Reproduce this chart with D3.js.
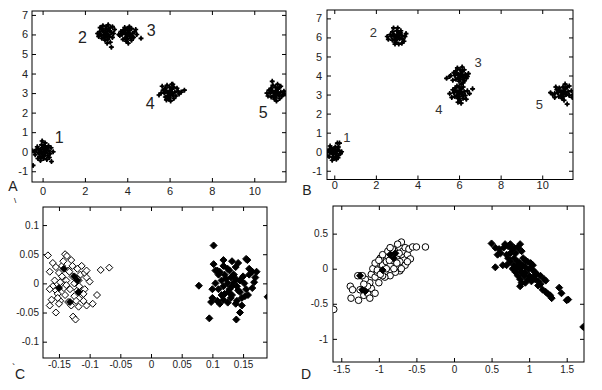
<!DOCTYPE html>
<html>
<head>
<meta charset="utf-8">
<script src="https://cdn.jsdelivr.net/npm/d3@7"></script>
<style>
  body { margin: 0; background: #fff; }
  svg { display: block; }
  .tick text { font-family: "Liberation Sans", Arial, sans-serif; fill: #222; }
  .tick line { stroke: #000; }
</style>
</head>
<body>
<div id="chart"></div>
<script>
// ---- data: panel A clusters (x, y) ----
const a1 = [[0.05,0.02],[-0.1,0.1],[0.15,-0.05],[0.0,-0.15],[0.2,0.15],[-0.2,-0.05],[0.1,0.3],[-0.05,0.35],[0.25,-0.2],[-0.15,-0.25],[0.3,0.05],[-0.3,0.1],[0.05,-0.35],[0.35,-0.1],[-0.25,0.25],[0.12,0.45],[-0.02,0.55],[0.4,0.2],[-0.35,-0.15],[0.2,-0.4],[-0.1,-0.45],[0.42,-0.5],[-0.45,-0.7],[0.08,0.12],[-0.05,-0.05],[0.18,0.05],[-0.12,0.0],[0.0,0.2],[0.1,-0.2],[-0.2,0.15],[0.28,0.3],[-0.08,-0.3],[0.32,-0.3],[-0.4,0.02],[0.15,0.22],[-0.22,-0.35],[0.5,0.0],[-0.5,0.05]];
const a2 = [[3.0,6.05],[2.85,6.2],[3.15,5.9],[2.9,5.85],[3.1,6.25],[2.75,6.0],[3.25,6.1],[3.0,6.4],[2.95,5.7],[3.3,5.85],[2.7,6.15],[3.2,6.35],[2.8,5.8],[3.05,5.55],[2.6,6.05],[3.35,6.05],[3.1,6.5],[2.85,6.45],[3.2,5.6],[3.25,5.35],[2.9,6.1],[3.05,6.15],[3.12,5.98],[2.95,6.0],[3.0,5.9],[2.8,6.3],[3.4,6.25],[2.65,5.9],[3.18,6.18],[2.88,5.95],[3.08,5.75],[2.98,6.28],[3.3,6.4],[2.72,6.35]];
const a3 = [[4.0,6.0],[3.85,6.1],[4.15,5.9],[3.9,5.8],[4.1,6.2],[3.75,6.0],[4.25,6.05],[4.0,6.3],[3.95,5.65],[4.3,5.85],[3.7,6.15],[4.2,6.3],[3.8,5.75],[4.05,5.55],[3.65,5.95],[4.35,6.15],[4.1,6.4],[3.88,6.35],[4.2,5.7],[4.45,6.0],[3.92,6.05],[4.05,6.12],[4.12,5.98],[3.98,5.9],[4.02,5.78],[3.82,6.22],[4.4,6.25],[3.6,6.0],[4.65,5.8],[4.08,6.05],[3.9,6.2],[4.18,5.82]];
const a4 = [[6.0,3.0],[5.85,3.1],[6.15,2.9],[5.9,2.85],[6.1,3.2],[5.75,3.0],[6.25,3.05],[6.0,3.3],[5.95,2.7],[6.3,2.85],[5.7,3.15],[6.2,3.3],[5.8,2.8],[6.05,2.6],[5.6,3.0],[6.4,3.1],[6.1,3.45],[5.88,3.4],[6.2,2.72],[6.45,2.95],[5.92,3.05],[6.05,3.12],[6.12,2.98],[5.98,2.9],[6.02,2.8],[5.8,3.25],[6.55,3.05],[5.5,2.9],[6.7,3.15],[5.65,3.35],[6.15,3.45],[5.85,2.65],[6.35,3.25]];
const a5 = [[11.0,3.0],[10.85,3.1],[11.15,2.9],[10.9,2.85],[11.1,3.2],[10.75,3.0],[11.25,3.05],[11.0,3.3],[10.95,2.7],[11.3,2.85],[10.7,3.15],[11.2,3.3],[10.8,2.8],[11.05,2.6],[10.6,3.0],[11.4,3.1],[11.1,3.45],[10.88,3.4],[11.2,2.72],[11.45,2.95],[10.92,3.05],[11.05,3.12],[11.12,2.98],[10.98,2.9],[11.02,2.8],[10.8,3.25],[10.85,3.6],[11.35,2.9],[10.65,2.85],[11.25,3.35]];

// ---- data: panel B clusters ----
const b1 = [[0.0,0.0],[-0.1,0.1],[0.1,-0.1],[-0.05,-0.15],[0.15,0.1],[-0.2,-0.05],[0.05,0.25],[-0.15,0.2],[0.2,-0.2],[-0.25,-0.25],[0.25,0.05],[-0.3,0.05],[0.0,-0.35],[0.3,-0.1],[-0.2,0.3],[0.15,0.45],[0.25,0.45],[-0.35,-0.2],[0.1,-0.4],[-0.1,-0.45],[0.05,0.05],[-0.05,-0.05],[0.12,0.02],[-0.12,-0.02],[0.0,0.15],[0.08,-0.25],[-0.18,0.12],[0.2,0.25],[-0.08,-0.3],[0.35,0.0],[-0.38,0.0],[0.18,-0.32]];
const b2 = [[3.0,6.05],[2.85,6.15],[3.15,5.95],[2.9,5.9],[3.1,6.2],[2.75,6.05],[3.25,6.1],[3.0,6.35],[2.95,5.75],[3.3,5.9],[2.7,6.15],[3.2,6.35],[2.8,5.85],[3.1,5.65],[2.55,6.05],[3.4,6.05],[3.05,6.5],[2.85,6.5],[3.25,5.7],[3.45,6.2],[2.9,6.1],[3.05,6.15],[3.12,6.0],[2.95,6.0],[3.0,5.88],[2.8,6.3],[2.6,5.9],[3.35,5.8],[2.92,5.65],[3.18,6.25]];
const b3 = [[6.05,4.0],[5.9,4.1],[6.2,3.9],[5.95,3.85],[6.15,4.2],[5.8,4.0],[6.3,4.05],[6.05,4.3],[6.0,3.7],[6.35,3.85],[5.75,4.15],[6.25,4.3],[5.85,3.8],[6.1,3.55],[5.6,4.0],[6.45,4.1],[6.15,4.45],[5.92,4.4],[6.25,3.72],[5.4,3.85],[5.97,4.05],[6.1,4.12],[6.17,3.98],[6.03,3.9],[6.07,3.8],[5.85,4.25],[5.55,3.95],[6.4,3.95],[5.7,3.75],[6.2,3.62]];
const b4 = [[6.0,3.1],[5.85,3.2],[6.15,3.0],[5.9,2.95],[6.1,3.3],[5.75,3.1],[6.25,3.15],[6.0,3.4],[5.95,2.8],[6.3,2.95],[5.7,3.25],[6.2,3.4],[5.8,2.9],[6.05,2.7],[5.55,3.05],[6.4,3.2],[5.9,3.45],[6.2,2.8],[6.65,3.3],[6.5,3.05],[5.92,3.15],[6.05,3.22],[6.12,3.08],[5.98,3.0],[6.02,2.9],[5.82,3.35],[5.65,2.85],[6.1,2.55],[5.95,2.6],[6.35,2.75]];
const b5 = [[11.0,3.1],[10.85,3.2],[11.15,3.0],[10.9,2.95],[11.1,3.3],[10.75,3.1],[11.25,3.15],[11.0,3.4],[10.95,2.8],[11.3,2.95],[10.7,3.25],[11.2,3.4],[10.8,2.9],[11.05,2.7],[10.6,3.05],[11.4,3.2],[11.1,3.55],[10.5,3.0],[11.2,2.5],[11.45,2.85],[10.92,3.15],[11.05,3.22],[11.12,3.08],[10.98,3.0],[11.02,2.9],[10.82,3.35],[10.4,3.1],[10.6,2.85],[11.3,3.45],[11.48,3.0],[10.65,3.4]];

// cluster number labels [x, y, text]
const labelsA = [[0.79,0.75,'1'],[1.88,5.82,'2'],[5.13,6.18,'3'],[5.09,2.49,'4'],[10.42,2.03,'5']];
const labelsB = [[0.6,0.72,'1'],[1.88,6.28,'2'],[6.92,4.66,'3'],[5.03,2.24,'4'],[9.86,2.5,'5']];

// ---- data: panel C ----
const cOpen = [[-0.168,0.048],[-0.14,0.05],[-0.137,0.047],[-0.16,0.035],[-0.13,0.04],[-0.128,0.03],[-0.145,0.03],[-0.155,0.028],[-0.165,0.02],[-0.15,0.018],[-0.135,0.022],[-0.12,0.025],[-0.115,0.015],[-0.108,0.018],[-0.105,0.01],[-0.118,0.005],[-0.125,0.0],[-0.138,0.005],[-0.148,0.002],[-0.16,-0.005],[-0.165,-0.01],[-0.155,-0.012],[-0.142,-0.008],[-0.132,-0.01],[-0.12,-0.012],[-0.108,-0.01],[-0.112,-0.02],[-0.125,-0.022],[-0.14,-0.02],[-0.152,-0.018],[-0.162,-0.028],[-0.148,-0.03],[-0.135,-0.032],[-0.122,-0.03],[-0.11,-0.03],[-0.105,-0.038],[-0.118,-0.04],[-0.13,-0.038],[-0.15,-0.035],[-0.165,-0.038],[-0.155,-0.05],[-0.127,-0.057],[-0.123,-0.062],[-0.095,-0.035],[-0.088,-0.02],[-0.082,0.023],[-0.068,0.027],[-0.1,0.003],[-0.113,0.03],[-0.145,0.012],[-0.157,0.005],[-0.128,0.012],[-0.138,-0.003],[-0.117,-0.005],[-0.143,0.038],[-0.11,-0.018],[-0.133,0.02],[-0.12,0.008],[-0.152,-0.025],[-0.105,0.022]];
const cFilledLeft = [[-0.142,0.025],[-0.125,0.012],[-0.12,0.005],[-0.118,-0.015],[-0.132,-0.032],[-0.15,-0.008]];
const cFilled = [[0.078,-0.004],[0.095,-0.06],[0.102,0.065],[0.139,-0.062],[0.145,-0.05],[0.19,-0.023],[0.157,0.04],[0.155,0.042],[0.102,0.033],[0.118,0.04],[0.132,0.038],[0.142,0.035],[0.108,0.022],[0.105,0.022],[0.112,0.02],[0.125,0.025],[0.138,0.028],[0.165,0.02],[0.17,0.01],[0.16,0.015],[0.15,0.012],[0.145,0.005],[0.13,0.01],[0.12,0.015],[0.125,0.0],[0.135,0.002],[0.14,-0.005],[0.128,-0.01],[0.118,-0.005],[0.11,-0.01],[0.1,-0.01],[0.105,0.0],[0.115,0.005],[0.12,-0.018],[0.132,-0.02],[0.145,-0.015],[0.155,-0.01],[0.165,-0.008],[0.158,-0.02],[0.148,-0.025],[0.14,-0.03],[0.13,-0.025],[0.118,-0.028],[0.108,-0.03],[0.1,-0.025],[0.098,-0.032],[0.112,-0.035],[0.125,-0.033],[0.138,-0.035],[0.148,-0.038],[0.153,-0.022],[0.168,0.002],[0.172,0.02],[0.16,0.025],[0.135,0.015],[0.128,0.022],[0.122,0.008],[0.142,-0.012],[0.152,0.0],[0.11,0.015],[0.115,-0.02],[0.132,-0.005],[0.138,0.008],[0.126,-0.015],[0.118,0.03]];

// ---- data: panel D ----
const dOpen = [[-1.37,-0.42],[-1.38,-0.25],[-1.35,-0.3],[-1.27,-0.45],[-1.25,-0.3],[-1.2,-0.38],[-1.15,-0.35],[-1.1,-0.28],[-1.05,-0.35],[-1.12,-0.2],[-1.18,-0.15],[-1.28,-0.1],[-1.22,-0.1],[-1.1,-0.08],[-1.05,-0.12],[-1.0,-0.2],[-1.02,-0.05],[-0.98,0.0],[-1.08,0.0],[-1.05,0.08],[-0.95,0.05],[-0.92,-0.05],[-0.9,0.1],[-0.98,0.15],[-0.88,0.18],[-0.85,0.05],[-0.82,0.12],[-0.8,0.2],[-0.78,0.25],[-0.75,0.15],[-0.72,0.1],[-0.7,0.2],[-0.72,0.3],[-0.7,0.38],[-0.75,0.35],[-0.68,0.25],[-0.65,0.3],[-0.62,0.2],[-0.6,0.28],[-0.55,0.31],[-0.5,0.31],[-0.38,0.31],[-0.58,0.14],[-0.65,0.05],[-0.72,-0.03],[-0.78,-0.05],[-0.85,-0.1],[-0.92,-0.12],[-0.95,0.2],[-0.88,0.25],[-0.82,0.28],[-0.85,0.3],[-0.8,0.0],[-0.7,0.0],[-0.62,0.1],[-1.0,0.12],[-1.15,-0.25],[-1.2,-0.22],[-0.95,-0.1],[-1.6,-0.58],[-0.9,0.0],[-0.83,0.18],[-0.76,0.08],[-1.12,-0.42],[-1.02,-0.02],[-0.98,-0.08],[-0.86,0.12],[-0.73,0.22]];
const dFilledLeft = [[-1.25,-0.1],[-1.22,-0.3],[-1.18,-0.32],[-0.95,-0.02],[-0.8,0.15],[-0.85,0.2],[-0.78,0.22]];
const dFilled = [[0.5,0.36],[0.55,0.3],[0.6,0.28],[0.58,0.2],[0.62,0.22],[0.55,0.02],[0.65,0.05],[0.68,0.35],[0.72,0.32],[0.75,0.35],[0.78,0.28],[0.7,0.2],[0.72,0.15],[0.75,0.1],[0.8,0.15],[0.85,0.3],[0.88,0.35],[0.9,0.25],[0.82,0.22],[0.8,0.05],[0.85,0.1],[0.88,0.0],[0.92,0.05],[0.95,0.12],[0.9,-0.05],[0.85,-0.1],[0.88,-0.15],[0.95,-0.05],[1.0,0.0],[1.02,0.08],[1.05,0.05],[1.0,-0.1],[0.98,-0.15],[1.05,-0.12],[1.1,-0.08],[1.08,-0.15],[0.9,-0.2],[0.88,-0.25],[0.95,-0.2],[1.12,-0.18],[1.15,-0.1],[1.2,-0.15],[1.22,-0.17],[1.12,-0.24],[1.18,-0.3],[1.22,-0.33],[1.25,-0.36],[1.3,-0.42],[1.28,-0.38],[1.4,-0.27],[1.43,-0.35],[1.5,-0.45],[1.52,-0.44],[1.72,-0.83],[0.78,0.0],[0.82,-0.05],[0.7,0.05],[0.92,0.15],[0.98,0.1],[1.05,-0.02],[0.95,0.02],[0.87,0.08],[0.93,-0.1],[1.08,-0.05],[0.75,0.22],[0.8,0.3],[0.66,0.3],[1.15,-0.22],[1.03,-0.18],[0.84,0.02]];

// tick values
const ticksABx = [0, 2, 4, 6, 8, 10];
const ticksABy = [-1, 0, 1, 2, 3, 4, 5, 6, 7];
const ticksCx = [-0.15, -0.1, -0.05, 0, 0.05, 0.1, 0.15];
const ticksCy = [-0.1, -0.05, 0, 0.05, 0.1];
const ticksDx = [-1.5, -1, -0.5, 0, 0.5, 1, 1.5];
const ticksDy = [-1, -0.5, 0, 0.5];

//
// layout
//
const svg = d3.select('#chart').append('svg')
	.attr('width', 602)
	.attr('height', 390);

const panels = [
	{ id: 'A', box: [32, 11, 286, 182], xd: [-0.5, 11.5], yd: [-1.55, 7.2], xt: ticksABx, yt: ticksABy,
	  font: 11, padX: 5, padY: 4, series: [[a1,'plus'],[a2,'plus'],[a3,'plus'],[a4,'plus'],[a5,'plus']],
	  labels: labelsA, labelSize: 16, labelColor: '#222' },
	{ id: 'B', box: [327, 10, 573, 179.5], xd: [-0.35, 11.48], yd: [-1.46, 7.44], xt: ticksABx, yt: ticksABy,
	  font: 11, padX: 2, padY: 5, series: [[b1,'plus'],[b2,'plus'],[b3,'plus'],[b4,'plus'],[b5,'plus']],
	  labels: labelsB, labelSize: 13, labelColor: '#333' },
	{ id: 'C', box: [43, 207, 267, 358], xd: [-0.176, 0.189], yd: [-0.128, 0.131], xt: ticksCx, yt: ticksCy,
	  font: 10, padX: 3, padY: 4, series: [[cOpen,'dOpen'],[cFilledLeft,'dFill'],[cFilled,'dFill']] },
	{ id: 'D', box: [333, 206, 584, 362], xd: [-1.61, 1.73], yd: [-1.33, 0.894], xt: ticksDx, yt: ticksDy,
	  font: 10, padX: 4, padY: 5, series: [[dOpen,'cOpen'],[dFilledLeft,'dFill'],[dFilled,'dFill']] }
];

const plusPath = 'M-2.5,0H2.5M0,-2.5V2.5';
const diamondPath = 'M0,-3.5L3.5,0L0,3.5L-3.5,0Z';

panels.forEach((p) => {
	const [x0, y0, x1, y1] = p.box;
	const x = d3.scaleLinear().domain(p.xd).range([x0, x1]);
	const y = d3.scaleLinear().domain(p.yd).range([y1, y0]);
	const g = svg.append('g');

	g.append('clipPath').attr('id', 'clip' + p.id)
		.append('rect').attr('x', x0).attr('y', y0).attr('width', x1 - x0).attr('height', y1 - y0);

	// axes with inward ticks
	const fmt = (d) => String(d);
	g.append('g').attr('transform', `translate(0,${y1})`)
		.call(d3.axisBottom(x).tickValues(p.xt).tickSize(-4).tickSizeOuter(0).tickPadding(p.padX).tickFormat(fmt))
		.call((s) => s.select('.domain').remove())
		.selectAll('text').style('font-size', p.font + 'px');
	g.append('g').attr('transform', `translate(${x0},0)`)
		.call(d3.axisLeft(y).tickValues(p.yt).tickSize(-4).tickSizeOuter(0).tickPadding(p.padY).tickFormat(fmt))
		.call((s) => s.select('.domain').remove())
		.selectAll('text').style('font-size', p.font + 'px');
	g.append('g').attr('transform', `translate(0,${y0})`)
		.call(d3.axisTop(x).tickValues(p.xt).tickSize(-4).tickSizeOuter(0).tickFormat(''))
		.call((s) => s.select('.domain').remove());
	g.append('g').attr('transform', `translate(${x1},0)`)
		.call(d3.axisRight(y).tickValues(p.yt).tickSize(-4).tickSizeOuter(0).tickFormat(''))
		.call((s) => s.select('.domain').remove());

	g.append('rect')
		.attr('x', x0).attr('y', y0).attr('width', x1 - x0).attr('height', y1 - y0)
		.attr('fill', 'none').attr('stroke', '#000').attr('stroke-width', 1);

	const plot = g.append('g').attr('clip-path', `url(#clip${p.id})`);

	p.series.forEach(([pts, kind]) => {
		const sel = plot.append('g').selectAll('.pt')
			.data(pts)
			.enter();
		if (kind === 'plus') {
			sel.append('path')
				.attr('d', plusPath)
				.attr('transform', (d) => `translate(${x(d[0])},${y(d[1])})`)
				.attr('stroke', '#000').attr('stroke-width', 1.6).attr('fill', 'none');
			sel.append('circle')
				.attr('cx', (d) => x(d[0])).attr('cy', (d) => y(d[1])).attr('r', 1.6)
				.attr('fill', '#000');
		} else if (kind === 'cOpen') {
			sel.append('circle')
				.attr('cx', (d) => x(d[0])).attr('cy', (d) => y(d[1])).attr('r', 3.3)
				.attr('fill', '#fff').attr('stroke', '#000').attr('stroke-width', 1);
		} else {
			sel.append('path')
				.attr('d', diamondPath)
				.attr('transform', (d) => `translate(${x(d[0])},${y(d[1])})`)
				.attr('fill', kind === 'dFill' ? '#000' : '#fff')
				.attr('stroke', '#000').attr('stroke-width', 1);
		}
	});

	if (p.labels) {
		g.selectAll('.lbl').data(p.labels).enter().append('text')
			.attr('x', (d) => x(d[0])).attr('y', (d) => y(d[1]))
			.attr('text-anchor', 'middle').attr('dominant-baseline', 'central')
			.style('font-family', '"Liberation Sans", Arial, sans-serif')
			.style('font-size', p.labelSize + 'px')
			.attr('fill', p.labelColor)
			.text((d) => d[2]);
	}
});

// panel letters
const letters = [['A', 13, 186], ['B', 307, 190], ['C', 20, 374], ['D', 306, 374]];
svg.selectAll('.letter').data(letters).enter().append('text')
	.attr('x', (d) => d[1]).attr('y', (d) => d[2])
	.attr('text-anchor', 'middle').attr('dominant-baseline', 'central')
	.style('font-family', '"Liberation Sans", Arial, sans-serif')
	.style('font-size', '14px').attr('fill', '#222')
	.text((d) => d[0]);
svg.append('text').attr('x', 14).attr('y', 203).style('font-size', '8px')
	.style('font-family', '"Liberation Sans", Arial, sans-serif').text('\\');
svg.append('text').attr('x', 12).attr('y', 372).style('font-size', '10px')
	.style('font-family', '"Liberation Sans", Arial, sans-serif').text('`');
</script>
</body>
</html>
